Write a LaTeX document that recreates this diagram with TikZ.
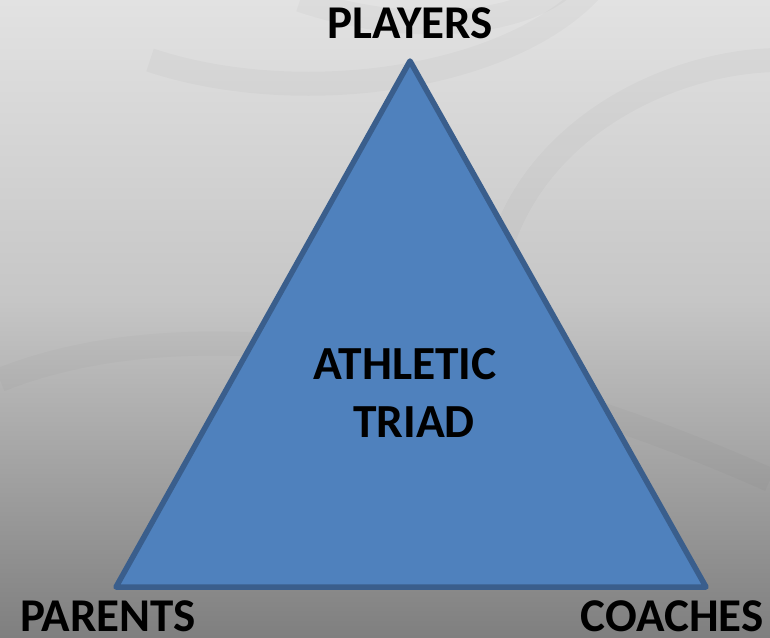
\documentclass[tikz,border=0pt]{standalone}
\usepackage{fontspec}
\setmainfont{Carlito}
\definecolor{trifill}{HTML}{4F81BD}
\definecolor{triedge}{HTML}{3A5E8C}
\definecolor{bgtop}{HTML}{E2E2E2}
\definecolor{bgmid}{HTML}{C6C6C6}
\definecolor{bgbot}{HTML}{7F7F7F}
\tikzset{
  lbl/.style={font=\fontsize{47}{50}\selectfont\bfseries, text=black, inner sep=0pt, anchor=base},
  inlbl/.style={font=\fontsize{47.5}{50}\selectfont\bfseries, text=black, inner sep=0pt, anchor=base},
  triangle/.style={fill=trifill, draw=triedge, line width=5.5pt, line join=round},
  band/.style={line width=24pt, draw=black, opacity=0.025}
}
\begin{document}
\begin{tikzpicture}[x=1pt,y=-1pt]
\useasboundingbox (0,0) rectangle (770,637);
% background
\shade[top color=bgtop, bottom color=bgmid] (0,0) rectangle (770,300.5);
\shade[top color=bgmid, bottom color=bgbot] (0,300) rectangle (770,637);
% faint decorative bands
\draw[band] (150,60) .. controls (300,110) and (520,80) .. (600,-20);
\draw[band] (500,250) .. controls (540,120) and (680,60) .. (780,60);
\draw[band] (300,0) .. controls (420,40) and (520,20) .. (560,-10);
\draw[band, opacity=0.02] (0,380) .. controls (200,300) and (500,360) .. (770,480);
% triangle
\coordinate (top) at (410,61);
\coordinate (bl) at (116,587);
\coordinate (br) at (706,587);
\draw[triangle] (top) -- (bl) -- (br) -- cycle;
% labels
\node[lbl] (players) at (410,38) {PLAYERS};
\node[lbl] (parents) at (108,631) {PARENTS};
\node[lbl] (coaches) at (672,631) {COACHES};
\node[inlbl] (athletic) at (405,379) {ATHLETIC};
\node[inlbl] (triad) at (414,437) {TRIAD};
\end{tikzpicture}
\end{document}
